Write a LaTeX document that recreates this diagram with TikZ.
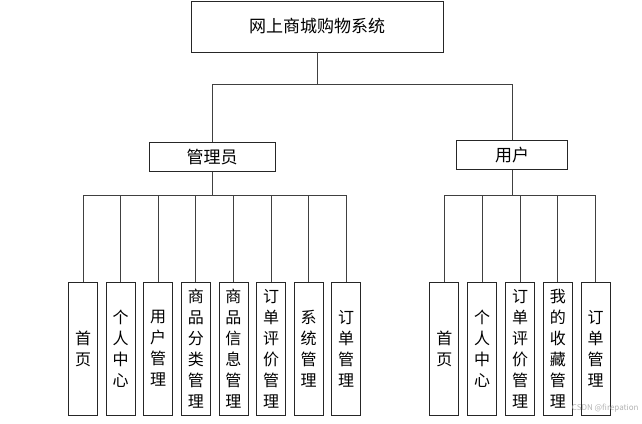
\documentclass[tikz,border=0pt]{standalone}
\usepackage{fontspec}
\newfontfamily\cjk{Noto Sans CJK SC}

\begin{document}
\begin{tikzpicture}[x=1pt,y=-1pt,line width=0.8pt]
  \tikzstyle{every node}=[draw=black!85,inner sep=0pt,font=\cjk]
  \tikzstyle{root box}=[minimum width=252pt,minimum height=51pt,
    font=\cjk\fontsize{17}{20}\selectfont]
  \tikzstyle{role box}=[minimum height=29pt,
    font=\cjk\fontsize{17}{20}\selectfont]
  \tikzstyle{leaf}=[minimum width=29pt,minimum height=133pt,align=center,
    font=\cjk\fontsize{16}{21}\selectfont]
  \tikzstyle{link}=[draw=black!75]
  \path[use as bounding box] (0,0) rectangle (642,423);

  \node[root box] (root) at (317,26.5) {网上商城购物系统};
  \node[role box,minimum width=126pt] (admin) at (212,157) {管理员};
  \node[role box,minimum width=111pt] (user) at (512,155) {用户};

  \draw[link] (root.south) -- ++(0,31.5) -| (admin.north);
  \draw[link] (root.south) -- ++(0,31.5) -| (user.north);

  % admin side
  \foreach \t [count=\i from 0] in {{首\\页},{个\\人\\中\\心},{用\\户\\管\\理},
      {商\\品\\分\\类\\管\\理},{商\\品\\信\\息\\管\\理},
      {订\\单\\评\\价\\管\\理},{系\\统\\管\\理},{订\\单\\管\\理}} {
    \node[leaf] (a\i) at (83+37.6*\i,348.5) {\t};
    \draw[link] (admin.south) -- ++(0,23) -| (a\i.north);
  }

  % user side
  \foreach \t [count=\i from 0] in {{首\\页},{个\\人\\中\\心},
      {订\\单\\评\\价\\管\\理},{我\\的\\收\\藏\\管\\理},{订\\单\\管\\理}} {
    \node[leaf] (u\i) at (444.3+37.85*\i,348.5) {\t};
    \draw[link] (user.south) -- ++(0,25.5) -| (u\i.north);
  }

  \node[draw=none,text=black!30,anchor=east,font=\cjk\fontsize{8}{8}\selectfont]
    (mark) at (639,408) {CSDN @firepation};
\end{tikzpicture}
\end{document}
